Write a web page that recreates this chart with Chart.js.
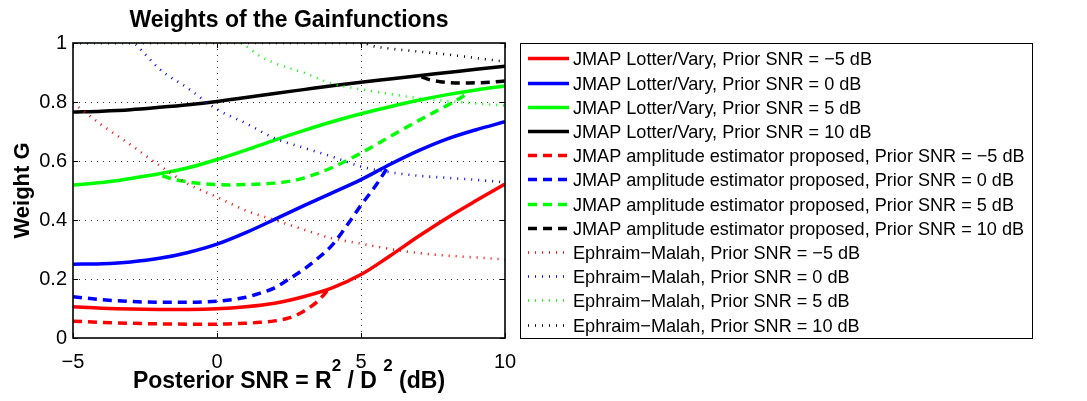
<!DOCTYPE html>
<html>
<head>
<meta charset="utf-8">
<script src="https://cdn.jsdelivr.net/npm/chart.js@4.4.1/dist/chart.umd.min.js"></script>
<style>
  html, body { margin: 0; padding: 0; background: #ffffff; }
  #wrap { width: 1087px; height: 401px; position: relative; }
</style>
</head>
<body>
<div id="wrap"><canvas id="chart" width="1087" height="401"></canvas></div>
<script>
const FONT = '"Liberation Sans", Arial, Helvetica, sans-serif';

// Axis ticks
const xTicks = [-5, 0, 5, 10];
const yTicks = [0, 0.2, 0.4, 0.6, 0.8, 1];

// Prior SNR levels and their colours
const priorSnr = ['\u22125', '0', '5', '10'];
const snrColors = ['#ff0000', '#0000ff', '#00ff00', '#000000'];

// JMAP Lotter/Vary gain (solid)
const lvX = [-5, -4, -3, -2, -1, 0, 1, 2, 3, 4, 5, 6, 7, 8, 9, 10];
const lvM5 = [0.106, 0.101, 0.098, 0.097, 0.097, 0.099, 0.106, 0.118, 0.140, 0.170, 0.215, 0.278, 0.345, 0.408, 0.466, 0.522];
const lv0  = [0.250, 0.252, 0.258, 0.270, 0.290, 0.318, 0.357, 0.402, 0.448, 0.492, 0.537, 0.588, 0.635, 0.675, 0.706, 0.733];
const lv5  = [0.519, 0.527, 0.541, 0.557, 0.577, 0.605, 0.637, 0.671, 0.703, 0.733, 0.760, 0.784, 0.806, 0.825, 0.841, 0.854];
const lv10 = [0.766, 0.769, 0.774, 0.782, 0.791, 0.802, 0.815, 0.829, 0.842, 0.855, 0.867, 0.878, 0.889, 0.900, 0.911, 0.921];

// JMAP amplitude estimator proposed (dashed), only where it departs from Lotter/Vary
const prM5X = [-5, -4, -3, -2, -1, 0, 1, 1.5, 2, 2.5, 3, 3.5, 3.85];
const prM5  = [0.057, 0.053, 0.050, 0.048, 0.047, 0.047, 0.050, 0.053, 0.058, 0.068, 0.090, 0.125, 0.162];
const pr0X  = [-5, -4, -3, -2, -1, 0, 0.5, 1, 1.5, 2, 2.5, 3, 3.5, 4, 4.5, 5, 5.5, 6];
const pr0   = [0.140, 0.130, 0.124, 0.121, 0.121, 0.125, 0.130, 0.138, 0.152, 0.170, 0.200, 0.232, 0.270, 0.315, 0.380, 0.450, 0.515, 0.590];
const pr5X  = [-1.9, -1.5, -1, -0.5, 0, 0.5, 1, 1.5, 2, 2.5, 3, 3.5, 4, 4.5, 5, 5.5, 6, 6.5, 7, 7.5, 8, 8.3, 8.65];
const pr5   = [0.550, 0.538, 0.529, 0.523, 0.520, 0.519, 0.520, 0.522, 0.525, 0.531, 0.542, 0.558, 0.578, 0.601, 0.627, 0.654, 0.682, 0.710, 0.737, 0.763, 0.789, 0.805, 0.826];
const pr10X = [7.1, 7.4, 7.75, 8, 8.5, 9, 9.5, 10];
const pr10  = [0.885, 0.875, 0.869, 0.866, 0.864, 0.865, 0.867, 0.871];

// Ephraim-Malah gain (dotted), limited to 1
const emM5X = [-5, -4, -3, -2, -1, 0, 1, 2, 3, 4, 5, 6, 7, 8, 9, 10];
const emM5  = [0.797, 0.722, 0.655, 0.585, 0.522, 0.478, 0.432, 0.400, 0.368, 0.338, 0.320, 0.302, 0.288, 0.279, 0.273, 0.266];
const em0X  = [-5, -2.95, -2.5, -2, -1, 0, 1, 2, 3, 4, 5, 6, 7, 8, 9, 10];
const em0   = [1.000, 1.000, 0.962, 0.912, 0.846, 0.775, 0.728, 0.677, 0.645, 0.615, 0.581, 0.562, 0.550, 0.543, 0.536, 0.528];
const em5X  = [-5, 0.8, 1, 1.5, 2, 2.5, 3, 4, 5, 6, 7, 8, 9, 10];
const em5   = [1.000, 1.000, 0.990, 0.955, 0.932, 0.915, 0.900, 0.862, 0.843, 0.827, 0.813, 0.803, 0.795, 0.788];
const em10X = [-5, 5, 5.5, 6, 7, 8, 9, 10];
const em10  = [1.000, 1.000, 0.988, 0.981, 0.971, 0.961, 0.949, 0.937];

const pts = (xs, ys) => xs.map((x, i) => ({ x: x, y: ys[i] }));

const groups = [
  { name: 'JMAP Lotter/Vary', dash: [], width: 3.5,
    series: [pts(lvX, lvM5), pts(lvX, lv0), pts(lvX, lv5), pts(lvX, lv10)] },
  { name: 'JMAP amplitude estimator proposed', dash: [9, 6], width: 3.5,
    series: [pts(prM5X, prM5), pts(pr0X, pr0), pts(pr5X, pr5), pts(pr10X, pr10)] },
  { name: 'Ephraim\u2212Malah', dash: [1, 6], width: 2.6,
    series: [pts(emM5X, emM5), pts(em0X, em0), pts(em5X, em5), pts(em10X, em10)] }
];

const datasets = [];
groups.forEach(g => {
  g.series.forEach((data, k) => {
    datasets.push({
      label: g.name + ', Prior SNR = ' + priorSnr[k] + ' dB',
      data: data,
      borderColor: snrColors[k],
      backgroundColor: snrColors[k],
      borderWidth: g.width,
      borderDash: g.dash,
      showLine: true,
      pointRadius: 0,
      pointHoverRadius: 0,
      fill: false,
      cubicInterpolationMode: 'monotone'
    });
  });
});
// later series are painted on top
datasets.forEach((d, i) => { d.order = datasets.length - i; });

const fmt = v => (v < 0 ? '\u2212' + Math.abs(v) : String(Math.round(v * 10) / 10));

const frame = {
  id: 'frame',
  beforeDatasetsDraw(chart) {
    const { ctx, chartArea: a, scales: { x, y } } = chart;
    ctx.save();
    ctx.strokeStyle = '#3a3a3a';
    ctx.lineWidth = 1;
    ctx.setLineDash([1, 5]);
    xTicks.slice(1, -1).forEach(v => {
      const px = Math.round(x.getPixelForValue(v)) + 0.5;
      ctx.beginPath(); ctx.moveTo(px, a.bottom); ctx.lineTo(px, a.top); ctx.stroke();
    });
    yTicks.slice(1, -1).forEach(v => {
      const py = Math.round(y.getPixelForValue(v)) + 0.5;
      ctx.beginPath(); ctx.moveTo(a.left, py); ctx.lineTo(a.right, py); ctx.stroke();
    });
    ctx.restore();
  },
  afterDatasetsDraw(chart) {
    const { ctx, chartArea: a, scales: { x, y } } = chart;
    ctx.save();
    ctx.strokeStyle = '#000';
    ctx.lineWidth = 1.6;
    ctx.setLineDash([]);
    ctx.strokeRect(a.left, a.top, a.right - a.left, a.bottom - a.top);
    ctx.lineWidth = 1;
    const tl = 5;
    xTicks.forEach(v => {
      const px = Math.round(x.getPixelForValue(v)) + 0.5;
      ctx.beginPath();
      ctx.moveTo(px, a.bottom); ctx.lineTo(px, a.bottom - tl);
      ctx.moveTo(px, a.top); ctx.lineTo(px, a.top + tl);
      ctx.stroke();
    });
    yTicks.forEach(v => {
      const py = Math.round(y.getPixelForValue(v)) + 0.5;
      ctx.beginPath();
      ctx.moveTo(a.left, py); ctx.lineTo(a.left + tl, py);
      ctx.moveTo(a.right, py); ctx.lineTo(a.right - tl, py);
      ctx.stroke();
    });
    ctx.restore();
  },
  afterDraw(chart) {
    const { ctx, chartArea: a } = chart;
    const cx = (a.left + a.right) / 2;
    ctx.save();
    ctx.fillStyle = '#000';

    // title
    ctx.font = 'bold 23px ' + FONT;
    ctx.textAlign = 'center';
    ctx.textBaseline = 'alphabetic';
    ctx.fillText('Weights of the Gainfunctions', cx, 27);

    // y axis title
    ctx.save();
    ctx.translate(29, (a.top + a.bottom) / 2);
    ctx.rotate(-Math.PI / 2);
    ctx.font = 'bold 22px ' + FONT;
    ctx.textAlign = 'center';
    ctx.fillText('Weight G', 0, 0);
    ctx.restore();

    // x axis title with superscripts
    const parts = [
      { t: 'Posterior SNR = R', sup: false },
      { t: '2', sup: true },
      { t: ' / D ', sup: false },
      { t: '2', sup: true },
      { t: ' (dB)', sup: false }
    ];
    const mainFont = 'bold 23px ' + FONT;
    const supFont = 'bold 17px ' + FONT;
    let total = 0;
    parts.forEach(p => { ctx.font = p.sup ? supFont : mainFont; p.w = ctx.measureText(p.t).width; total += p.w; });
    let tx = cx - total / 2;
    ctx.textAlign = 'left';
    parts.forEach(p => {
      ctx.font = p.sup ? supFont : mainFont;
      ctx.fillText(p.t, tx, p.sup ? 371 : 388);
      tx += p.w;
    });

    // legend
    const lx = 520, ly = 43, lw = 512, lh = 295;
    ctx.lineWidth = 1;
    ctx.strokeStyle = '#000';
    ctx.setLineDash([]);
    ctx.strokeRect(lx + 0.5, ly + 0.5, lw, lh);
    ctx.font = '18.1px ' + FONT;
    ctx.textBaseline = 'middle';
    chart.data.datasets.forEach((d, i) => {
      const ry = Math.round(58.3 + i * 24.2) + 0.5;
      ctx.save();
      ctx.strokeStyle = d.borderColor;
      ctx.lineWidth = d.borderWidth;
      ctx.setLineDash(d.borderDash);
      ctx.beginPath(); ctx.moveTo(528, ry); ctx.lineTo(569, ry); ctx.stroke();
      ctx.restore();
      ctx.fillText(d.label, 573, ry + 1);
    });
    ctx.restore();
  }
};

new Chart(document.getElementById('chart'), {
  type: 'scatter',
  data: { datasets: datasets },
  options: {
    responsive: false,
    animation: false,
    devicePixelRatio: 1,
    layout: { padding: { top: 43, right: 582, bottom: 0, left: 0 } },
    plugins: { legend: { display: false }, tooltip: { enabled: false }, title: { display: false } },
    scales: {
      x: {
        type: 'linear', min: -5, max: 10,
        afterFit: s => { s.height = 63; },
        afterBuildTicks: s => { s.ticks = xTicks.map(v => ({ value: v })); },
        grid: { display: false, drawTicks: false },
        border: { display: false },
        ticks: { color: '#000', font: { family: FONT, size: 20 }, padding: 12, maxRotation: 0, callback: v => fmt(v) }
      },
      y: {
        type: 'linear', min: 0, max: 1,
        afterFit: s => { s.width = 73; },
        afterBuildTicks: s => { s.ticks = yTicks.map(v => ({ value: v })); },
        grid: { display: false, drawTicks: false },
        border: { display: false },
        ticks: { color: '#000', font: { family: FONT, size: 20 }, padding: 6, callback: v => fmt(v) }
      }
    }
  },
  plugins: [frame]
});
</script>
</body>
</html>
